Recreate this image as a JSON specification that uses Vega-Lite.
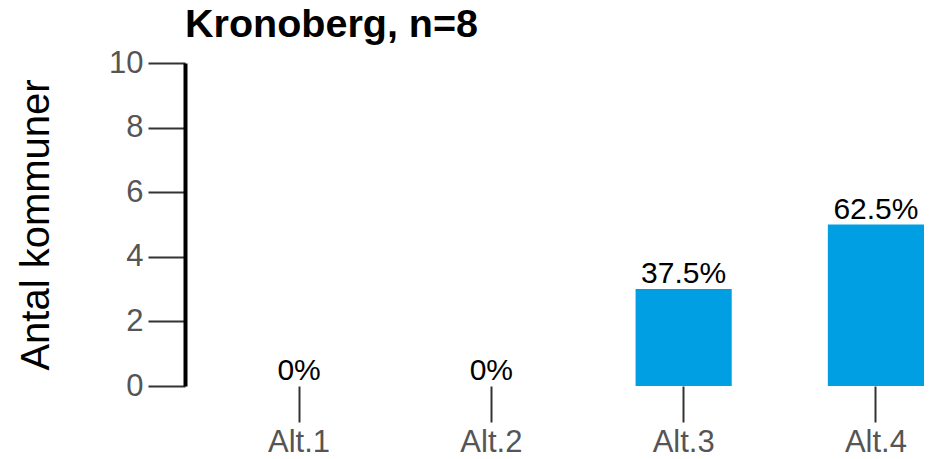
{
  "$schema": "https://vega.github.io/schema/vega-lite/v6.json",
  "width": 673,
  "height": 323,
  "autosize": {"type": "none"},
  "padding": {"left": 251, "top": 63, "right": 5, "bottom": 73},
  "background": "white",
  "config": {
    "view": {"stroke": null},
    "font": "Liberation Sans"
  },
  "title": {
    "text": "Kronoberg, n=8",
    "anchor": "start",
    "frame": "group",
    "dx": -66,
    "offset": 2,
    "fontSize": 39.5,
    "fontWeight": "bold",
    "color": "black",
    "font": "Liberation Sans"
  },
  "data": {
    "values": [
      {"alt": "Alt.1", "antal": 0, "pct": "0%"},
      {"alt": "Alt.2", "antal": 0, "pct": "0%"},
      {"alt": "Alt.3", "antal": 3, "pct": "37.5%"},
      {"alt": "Alt.4", "antal": 5, "pct": "62.5%"}
    ]
  },
  "encoding": {
    "x": {
      "field": "alt",
      "type": "nominal",
      "sort": null,
      "scale": {"paddingInner": 0.5, "paddingOuter": 0},
      "axis": {
        "title": null,
        "domain": false,
        "labelAngle": 0,
        "tickSize": 36,
        "tickWidth": 2,
        "tickColor": "#333333",
        "labelFontSize": 31,
        "labelColor": "#555555",
        "labelPadding": 5,
        "labelFont": "Liberation Sans"
      }
    },
    "y": {
      "field": "antal",
      "type": "quantitative",
      "scale": {"domain": [0, 10], "nice": false},
      "axis": {
        "title": "Antal kommuner",
        "titleFontSize": 40,
        "titleFontWeight": "normal",
        "titleColor": "black",
        "titleFont": "Liberation Sans",
        "titlePadding": 52,
        "offset": 66,
        "values": [0, 2, 4, 6, 8, 10],
        "grid": false,
        "domainColor": "black",
        "domainWidth": 4,
        "tickSize": 37,
        "tickWidth": 2,
        "tickColor": "#333333",
        "labelFontSize": 31,
        "labelColor": "#555555",
        "labelPadding": 5,
        "labelFont": "Liberation Sans"
      }
    }
  },
  "layer": [
    {"mark": {"type": "bar", "color": "#009FE3"}},
    {
      "mark": {"type": "text", "baseline": "alphabetic", "dy": -6, "fontSize": 30, "color": "black", "font": "Liberation Sans"},
      "encoding": {"text": {"field": "pct"}}
    }
  ]
}
